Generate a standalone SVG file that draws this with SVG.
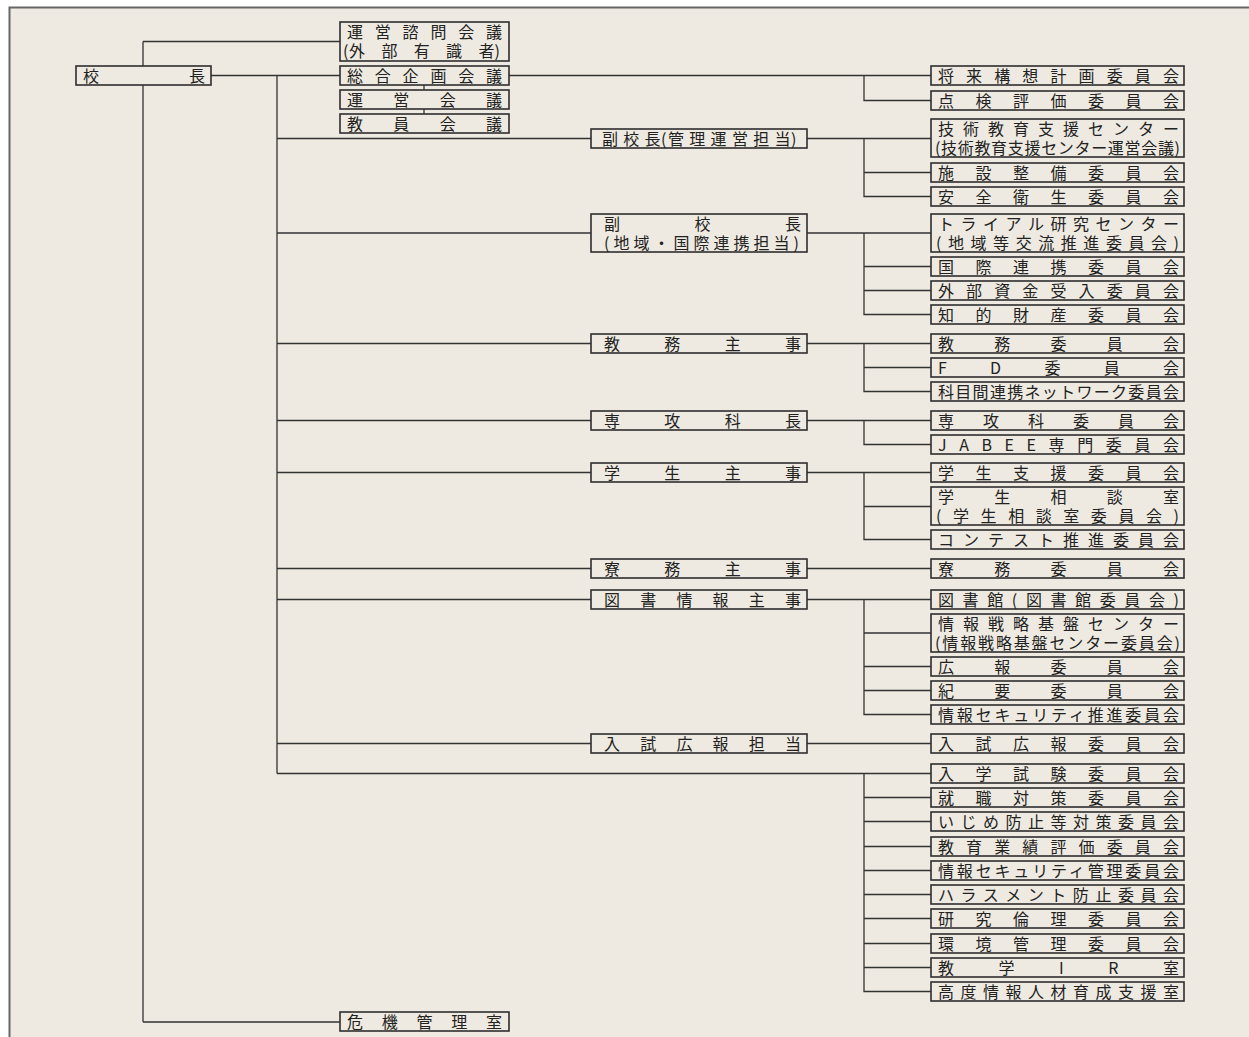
<svg xmlns="http://www.w3.org/2000/svg" width="1249" height="1037" viewBox="0 0 1249 1037">
<style>
.box{fill:#EEEAE1;stroke:#2e2e2e;stroke-width:1.6}
.ln{fill:none;stroke:#333;stroke-width:1.3}
.t{font-family:"Noto Sans CJK JP","Noto Sans",sans-serif;font-size:16px;fill:#222}
</style>
<rect x="0" y="0" width="1249" height="1037" fill="#ffffff"/>
<rect x="9.5" y="7.5" width="1260" height="1050" fill="#EEEAE1" stroke="#666" stroke-width="2"/>
<g id="connectors" class="ln">
<path d="M143,41.5V1022M143,41.5H340M143,1022H340"/>
<path d="M211,75.5H340M277,75.5V773.5M424,85V114"/>
<path d="M277,138.5H591M277,233H591M277,343.5H591M277,420.5H591M277,472.5H591M277,568.5H591M277,599.5H591M277,743.5H591M277,773.5H931"/>
<path d="M509,75.5H931M864,75.5V100.5H931"/>
<path d="M807,138.5H931M864,138.5V196.5H931M864,172.5H931"/>
<path d="M807,233H931M864,233V314.5H931M864,266.5H931M864,290.5H931"/>
<path d="M807,343.5H931M864,343.5V391.5H931M864,367.5H931"/>
<path d="M807,420.5H931M864,420.5V444.5H931"/>
<path d="M807,472.5H931M864,472.5V539.5H931M864,506.5H931"/>
<path d="M807,568.5H931"/>
<path d="M807,599.5H931M864,599.5V714.5H931M864,633H931M864,666.5H931M864,690.5H931"/>
<path d="M807,743.5H931"/>
<path d="M864,773.5V991.5H931M864,797.5H931M864,821.5H931M864,846.5H931M864,870.5H931M864,894.5H931M864,918.5H931M864,943.5H931M864,967.5H931"/>
</g>
<g id="n-kocho"><rect class="box" x="76" y="66" width="135" height="19"/><text class="t" x="83" y="82" textLength="122" lengthAdjust="spacing">校長</text></g>
<g id="n-shimon"><rect class="box" x="340" y="22" width="169" height="39"/><text class="t" x="347" y="38" textLength="155" lengthAdjust="spacing">運営諮問会議</text><text class="t" x="343 349 381.4 413.8 446.1 478.5 494.5" y="57">(外部有識者)</text></g>
<g id="n-sogo"><rect class="box" x="340" y="66" width="169" height="19"/><text class="t" x="347" y="82" textLength="155" lengthAdjust="spacing">総合企画会議</text></g>
<g id="n-unei"><rect class="box" x="340" y="90" width="169" height="19"/><text class="t" x="347" y="106" textLength="155" lengthAdjust="spacing">運営会議</text></g>
<g id="n-kyoin"><rect class="box" x="340" y="114" width="169" height="19"/><text class="t" x="347" y="130" textLength="155" lengthAdjust="spacing">教員会議</text></g>
<g id="n-kiki"><rect class="box" x="340" y="1012" width="169" height="19"/><text class="t" x="347" y="1028" textLength="155" lengthAdjust="spacing">危機管理室</text></g>

<g id="n-fuku1"><rect class="box" x="591" y="129" width="216" height="19"/><text class="t" x="602 623.3 644.6 661 668 689.3 710.6 731.9 753.2 774.5 791" y="145">副校長(管理運営担当)</text></g>
<g id="n-fuku2"><rect class="box" x="591" y="214" width="216" height="38"/><text class="t" x="604" y="230" textLength="197" lengthAdjust="spacing">副校長</text><text class="t" x="604" y="249" textLength="195" lengthAdjust="spacing">(地域・国際連携担当)</text></g>
<g id="n-kyomu"><rect class="box" x="591" y="334" width="216" height="19"/><text class="t" x="604" y="350" textLength="197" lengthAdjust="spacing">教務主事</text></g>
<g id="n-senkoka"><rect class="box" x="591" y="411" width="216" height="19"/><text class="t" x="604" y="427" textLength="197" lengthAdjust="spacing">専攻科長</text></g>
<g id="n-gakusei"><rect class="box" x="591" y="463" width="216" height="19"/><text class="t" x="604" y="479" textLength="197" lengthAdjust="spacing">学生主事</text></g>
<g id="n-ryomu"><rect class="box" x="591" y="559" width="216" height="19"/><text class="t" x="604" y="575" textLength="197" lengthAdjust="spacing">寮務主事</text></g>
<g id="n-tosho"><rect class="box" x="591" y="590" width="216" height="19"/><text class="t" x="604" y="606" textLength="197" lengthAdjust="spacing">図書情報主事</text></g>
<g id="n-nyushi"><rect class="box" x="591" y="734" width="216" height="19"/><text class="t" x="604" y="750" textLength="197" lengthAdjust="spacing">入試広報担当</text></g>

<g id="r01"><rect class="box" x="931" y="66" width="253" height="19"/><text class="t" x="938" y="82" textLength="241" lengthAdjust="spacing">将来構想計画委員会</text></g>
<g id="r02"><rect class="box" x="931" y="91" width="253" height="19"/><text class="t" x="938" y="107" textLength="241" lengthAdjust="spacing">点検評価委員会</text></g>
<g id="r03"><rect class="box" x="931" y="119" width="253" height="38"/><text class="t" x="938" y="135" textLength="241" lengthAdjust="spacing">技術教育支援センター</text><text class="t" x="935" y="154" textLength="245" lengthAdjust="spacing">(技術教育支援センター運営会議)</text></g>
<g id="r04"><rect class="box" x="931" y="163" width="253" height="19"/><text class="t" x="938" y="179" textLength="241" lengthAdjust="spacing">施設整備委員会</text></g>
<g id="r05"><rect class="box" x="931" y="187" width="253" height="19"/><text class="t" x="938" y="203" textLength="241" lengthAdjust="spacing">安全衛生委員会</text></g>
<g id="r06"><rect class="box" x="931" y="214" width="253" height="38"/><text class="t" x="938" y="230" textLength="241" lengthAdjust="spacing">トライアル研究センター</text><text class="t" x="936" y="249" textLength="243" lengthAdjust="spacing">(地域等交流推進委員会)</text></g>
<g id="r07"><rect class="box" x="931" y="257" width="253" height="19"/><text class="t" x="938" y="273" textLength="241" lengthAdjust="spacing">国際連携委員会</text></g>
<g id="r08"><rect class="box" x="931" y="281" width="253" height="19"/><text class="t" x="938" y="297" textLength="241" lengthAdjust="spacing">外部資金受入委員会</text></g>
<g id="r09"><rect class="box" x="931" y="305" width="253" height="19"/><text class="t" x="938" y="321" textLength="241" lengthAdjust="spacing">知的財産委員会</text></g>
<g id="r10"><rect class="box" x="931" y="334" width="253" height="19"/><text class="t" x="938" y="350" textLength="241" lengthAdjust="spacing">教務委員会</text></g>
<g id="r11"><rect class="box" x="931" y="358" width="253" height="19"/><text class="t" x="938" y="374" textLength="241" lengthAdjust="spacing">FD委員会</text></g>
<g id="r12"><rect class="box" x="931" y="382" width="253" height="19"/><text class="t" x="938" y="398" textLength="241" lengthAdjust="spacing">科目間連携ネットワーク委員会</text></g>
<g id="r13"><rect class="box" x="931" y="411" width="253" height="19"/><text class="t" x="938" y="427" textLength="241" lengthAdjust="spacing">専攻科委員会</text></g>
<g id="r14"><rect class="box" x="931" y="435" width="253" height="19"/><text class="t" x="938" y="451" textLength="241" lengthAdjust="spacing">JABEE専門委員会</text></g>
<g id="r15"><rect class="box" x="931" y="463" width="253" height="19"/><text class="t" x="938" y="479" textLength="241" lengthAdjust="spacing">学生支援委員会</text></g>
<g id="r16"><rect class="box" x="931" y="487" width="253" height="38"/><text class="t" x="938" y="503" textLength="241" lengthAdjust="spacing">学生相談室</text><text class="t" x="936" y="522" textLength="243" lengthAdjust="spacing">(学生相談室委員会)</text></g>
<g id="r17"><rect class="box" x="931" y="530" width="253" height="19"/><text class="t" x="938" y="546" textLength="241" lengthAdjust="spacing">コンテスト推進委員会</text></g>
<g id="r18"><rect class="box" x="931" y="559" width="253" height="19"/><text class="t" x="938" y="575" textLength="241" lengthAdjust="spacing">寮務委員会</text></g>
<g id="r19"><rect class="box" x="931" y="590" width="253" height="19"/><text class="t" x="938" y="606" textLength="241" lengthAdjust="spacing">図書館(図書館委員会)</text></g>
<g id="r20"><rect class="box" x="931" y="614" width="253" height="38"/><text class="t" x="938" y="630" textLength="241" lengthAdjust="spacing">情報戦略基盤センター</text><text class="t" x="935" y="649" textLength="245" lengthAdjust="spacing">(情報戦略基盤センター委員会)</text></g>
<g id="r21"><rect class="box" x="931" y="657" width="253" height="19"/><text class="t" x="938" y="673" textLength="241" lengthAdjust="spacing">広報委員会</text></g>
<g id="r22"><rect class="box" x="931" y="681" width="253" height="19"/><text class="t" x="938" y="697" textLength="241" lengthAdjust="spacing">紀要委員会</text></g>
<g id="r23"><rect class="box" x="931" y="705" width="253" height="19"/><text class="t" x="938" y="721" textLength="241" lengthAdjust="spacing">情報セキュリティ推進委員会</text></g>
<g id="r24"><rect class="box" x="931" y="734" width="253" height="19"/><text class="t" x="938" y="750" textLength="241" lengthAdjust="spacing">入試広報委員会</text></g>
<g id="r25"><rect class="box" x="931" y="764" width="253" height="19"/><text class="t" x="938" y="780" textLength="241" lengthAdjust="spacing">入学試験委員会</text></g>
<g id="r26"><rect class="box" x="931" y="788" width="253" height="19"/><text class="t" x="938" y="804" textLength="241" lengthAdjust="spacing">就職対策委員会</text></g>
<g id="r27"><rect class="box" x="931" y="812" width="253" height="19"/><text class="t" x="938" y="828" textLength="241" lengthAdjust="spacing">いじめ防止等対策委員会</text></g>
<g id="r28"><rect class="box" x="931" y="837" width="253" height="19"/><text class="t" x="938" y="853" textLength="241" lengthAdjust="spacing">教育業績評価委員会</text></g>
<g id="r29"><rect class="box" x="931" y="861" width="253" height="19"/><text class="t" x="938" y="877" textLength="241" lengthAdjust="spacing">情報セキュリティ管理委員会</text></g>
<g id="r30"><rect class="box" x="931" y="885" width="253" height="19"/><text class="t" x="938" y="901" textLength="241" lengthAdjust="spacing">ハラスメント防止委員会</text></g>
<g id="r31"><rect class="box" x="931" y="909" width="253" height="19"/><text class="t" x="938" y="925" textLength="241" lengthAdjust="spacing">研究倫理委員会</text></g>
<g id="r32"><rect class="box" x="931" y="934" width="253" height="19"/><text class="t" x="938" y="950" textLength="241" lengthAdjust="spacing">環境管理委員会</text></g>
<g id="r33"><rect class="box" x="931" y="958" width="253" height="19"/><text class="t" x="938" y="974" textLength="241" lengthAdjust="spacing">教学IR室</text></g>
<g id="r34"><rect class="box" x="931" y="982" width="253" height="19"/><text class="t" x="938" y="998" textLength="241" lengthAdjust="spacing">高度情報人材育成支援室</text></g>
</svg>
